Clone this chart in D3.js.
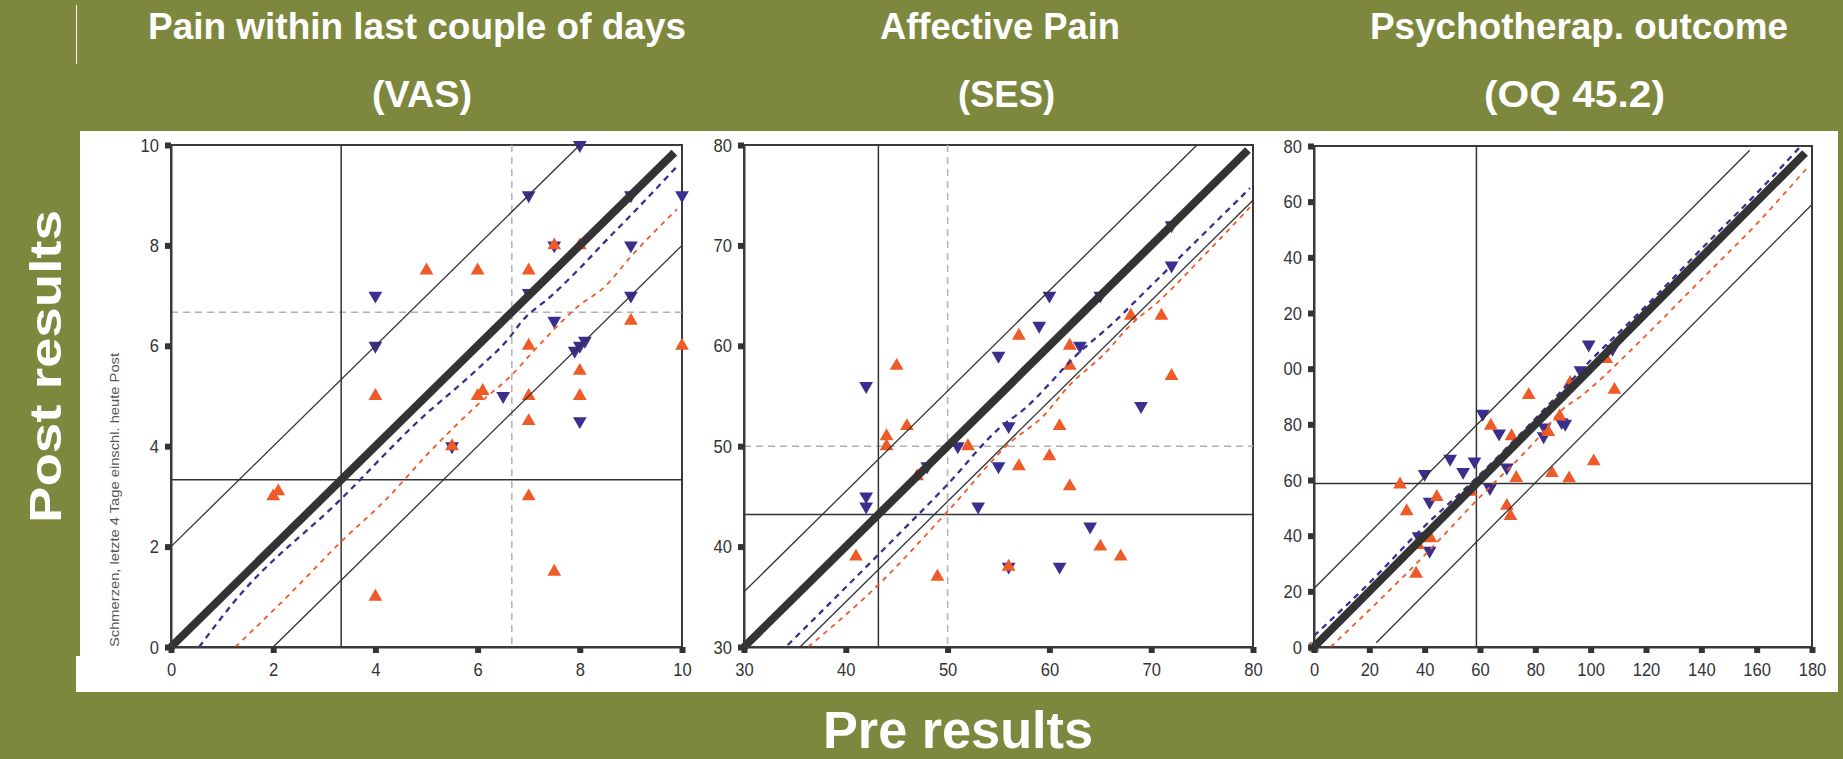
<!DOCTYPE html>
<html>
<head>
<meta charset="utf-8">
<script src="https://cdn.jsdelivr.net/npm/d3@7"></script>
<style>
  html, body { margin: 0; padding: 0; background: #7e873e; overflow: hidden; }
  text { font-family: "Liberation Sans", Arial, sans-serif; }
</style>
</head>
<body>
<svg id="chart" width="1843" height="759"></svg>
<script>
// ---- data: panel 1, pain VAS ----
const vasXTicks = [0, 2, 4, 6, 8, 10];
const vasYTicks = [0, 2, 4, 6, 8, 10];
const vasDown = [[8, 10], [7, 9], [9, 9], [10, 9], [4, 7], [7, 7.05], [9, 8], [7.5, 8], [7.5, 6.5],
  [4, 6], [7.9, 5.9], [8, 6], [8.1, 6.1], [9, 7], [6.5, 5], [8, 4.5], [5.5, 4]];
const vasUp = [[5, 7.5], [6, 7.5], [7, 7.5], [7.5, 8], [8, 8], [4, 5], [6, 5], [6.1, 5.1], [7, 6],
  [7, 5], [7, 4.5], [8, 5.5], [8, 5], [9, 6.5], [10, 6], [5.5, 4], [2, 3], [2.1, 3.1], [7, 3],
  [7.5, 1.5], [4, 1]];
const vasBlueFit = [[0.55, 0], [1.26, 0.93], [3.33, 2.95], [4.86, 4.52], [5.98, 5.52], [6.62, 6.16],
  [6.86, 6.48], [7.46, 7.01], [8.1, 7.65], [8.46, 8.04], [8.98, 8.58], [9.9, 9.57]];
const vasOrangeFit = [[1.26, 0], [2.3, 1.03], [3.33, 2.1], [4.22, 2.95], [5.02, 3.84], [6.06, 4.88],
  [6.62, 5.37], [7.1, 5.9], [7.5, 6.33], [7.98, 6.8], [8.46, 7.15], [9.02, 7.8], [9.9, 8.72]];
const vasDiagonal = [[0, 0], [9.85, 9.85]];
const vasBands = [[[0, 2], [8, 10]], [[2, 0], [10, 8]]];
const vasCut = 3.33;
const vasNorm = 6.67;

// ---- data: panel 2, affective pain SES ----
const sesXTicks = [30, 40, 50, 60, 70, 80];
const sesYTicks = [30, 40, 50, 60, 70, 80];
const sesDown = [[42, 56], [42, 45], [42, 44], [48, 48], [51, 50], [53, 44], [55, 59], [55, 48],
  [56, 52], [56, 38], [59, 62], [60, 65], [61, 38], [63, 60], [64, 42], [65, 65], [69, 54],
  [72, 72], [72, 68]];
const sesUp = [[41, 39], [44, 51], [44, 50], [45, 58], [46, 52], [47, 47], [49, 37], [52, 50],
  [56, 38], [57, 61], [57, 48], [60, 49], [61, 52], [62, 60], [62, 58], [62, 46], [65, 40],
  [67, 39], [68, 63], [71, 63], [72, 57]];
const sesBlueFit = [[34.3, 30.2], [43.2, 39.2], [50, 46.2], [55.2, 51.9], [57.4, 53.6], [63, 59.4],
  [66.4, 62.4], [68.4, 64.4], [72, 68], [79.7, 75.7]];
const sesOrangeFit = [[36.3, 30], [43.2, 36.2], [50, 43.5], [56.3, 50.5], [59.3, 52.9], [62, 56.1],
  [65.3, 59.1], [68.2, 62.3], [70.6, 64.3], [75, 68.8], [79.7, 73.8]];
const sesDiagonal = [[30, 30], [79.5, 79.5]];
const sesBands = [[[30, 35.5], [74.5, 80]], [[35.5, 30], [80, 74.5]]];
const sesCut = 43.2;
const sesNorm = 50;

// ---- data: panel 3, psychotherapy outcome OQ 45.2 ----
const oqXTicks = [0, 20, 40, 60, 80, 100, 120, 140, 160, 180];
const oqYTicks = [0, 20, 40, 60, 80, 100, 120, 140, 160, 180];
const oqYTickLabels = ["0", "20", "40", "60", "80", "00", "20", "40", "60", "80"]; // clipped in the source
const oqDown = [[61, 83.8], [40, 62.2], [49.2, 67.6], [53.9, 62.9], [58, 66.7], [66.9, 76.7],
  [69.7, 64.5], [63.6, 57.1], [41.8, 52.2], [41.8, 34.6], [37.8, 39.8], [83.3, 78.9], [83, 75.7],
  [89.5, 80.8], [90.8, 80.2], [96.3, 99.4], [99.3, 108.7], [107.9, 107.1]];
const oqUp = [[31.1, 58.4], [33.5, 48.8], [36.9, 26.3], [37.6, 36.6], [42.1, 39.1], [44.4, 53.9],
  [56.7, 55.8], [63.9, 79.5], [71.4, 75.7], [73.1, 60.7], [69.7, 50.7], [71, 47.1], [77.6, 90.5],
  [84.7, 77.2], [86, 62.5], [88.8, 82.8], [92.2, 60.6], [92.6, 94.9], [101.1, 66.7],
  [105.6, 103.5], [108.6, 92.4]];
const oqBlueFit = [[0, 4], [20, 23], [38, 41.5], [59, 61], [80, 82], [100, 103], [120, 122.5],
  [140, 143], [160, 163], [176, 180]];
const oqOrangeFit = [[6, 0], [40, 33], [58.7, 52.6], [80, 74], [90, 85.5], [97, 90.5], [100, 93],
  [120, 112], [140, 132], [160, 152], [179, 173]];
const oqDiagonal = [[0, 0], [177.5, 177.5]];
const oqBands = [[[0, 21], [157.5, 178.5]], [[22.5, 1.5], [180, 159]]];
const oqCut = 58.7;
const oqOrigin = [[0, 0]];

const titles = [
  ["Pain within last couple of days", "(VAS)"],
  ["Affective Pain", "(SES)"],
  ["Psychotherap. outcome", "(OQ 45.2)"]
];

// ---- drawing ----
const svg = d3.select('#chart');
const olive = '#7e873e', ink = '#333333', orange = '#ef5a29', blue = '#3a2f8e', grid = '#b8aeae';

svg.append('rect').attr('width', 1843).attr('height', 759).attr('fill', olive);
svg.append('rect').attr('x', 80).attr('y', 131).attr('width', 1758).attr('height', 561).attr('fill', '#fff');
svg.append('rect').attr('x', 76).attr('y', 656).attr('width', 6).attr('height', 36).attr('fill', '#fff');
svg.append('line').attr('x1', 76.5).attr('x2', 76.5).attr('y1', 5).attr('y2', 64)
  .attr('stroke', '#fff').attr('stroke-width', 1);

// title blocks: [left, width] for each line
const titleBoxes = [
  [[148, 538], [372, 100]],
  [[880, 240], [958, 97]],
  [[1370, 418], [1484, 181]]
];
titles.forEach((t, i) => {
  t.forEach((line, j) => {
    svg.append('text')
      .attr('x', titleBoxes[i][j][0])
      .attr('y', j === 0 ? 39 : 107)
      .attr('fill', '#fff').attr('font-size', 36).attr('font-weight', 'bold')
      .attr('textLength', titleBoxes[i][j][1]).attr('lengthAdjust', 'spacingAndGlyphs')
      .text(line);
  });
});

svg.append('text')
  .attr('transform', 'translate(61,523) rotate(-90)')
  .attr('fill', '#fff').attr('font-size', 45).attr('font-weight', 'bold')
  .attr('textLength', 313).attr('lengthAdjust', 'spacingAndGlyphs')
  .text('Post results');

svg.append('text')
  .attr('x', 823).attr('y', 748)
  .attr('fill', '#fff').attr('font-size', 51).attr('font-weight', 'bold')
  .attr('textLength', 270).attr('lengthAdjust', 'spacingAndGlyphs')
  .text('Pre results');

svg.append('text')
  .attr('transform', 'translate(118.5,647) rotate(-90)')
  .attr('fill', '#555').attr('font-size', 12.5)
  .attr('textLength', 294).attr('lengthAdjust', 'spacingAndGlyphs')
  .text('Schmerzen, letzte 4 Tage einschl. heute Post');

function drawPanel(p) {
  const x = d3.scaleLinear().domain(p.xDomain).range([p.left, p.right]);
  const y = d3.scaleLinear().domain(p.yDomain).range([p.bottom, p.top]);
  const g = svg.append('g');
  const line = d3.line().x(d => x(d[0])).y(d => y(d[1]));

  // frame
  g.append('rect')
    .attr('x', p.left).attr('y', p.top)
    .attr('width', p.right - p.left).attr('height', p.bottom - p.top)
    .attr('fill', 'none').attr('stroke', '#3a3a3a').attr('stroke-width', 2);

  // normal range (dashed) and cut-off (solid) cross hairs
  if (p.norm !== undefined) {
    g.append('line').attr('x1', x(p.norm)).attr('x2', x(p.norm)).attr('y1', p.top).attr('y2', p.bottom)
      .attr('stroke', grid).attr('stroke-width', 1.5).attr('stroke-dasharray', '7,5');
    g.append('line').attr('x1', p.left).attr('x2', p.right).attr('y1', y(p.norm)).attr('y2', y(p.norm))
      .attr('stroke', grid).attr('stroke-width', 1.5).attr('stroke-dasharray', '7,5');
  }
  g.append('line').attr('x1', x(p.cut)).attr('x2', x(p.cut)).attr('y1', p.top).attr('y2', p.bottom)
    .attr('stroke', ink).attr('stroke-width', 1.5);
  g.append('line').attr('x1', p.left).attr('x2', p.right).attr('y1', y(p.cut)).attr('y2', y(p.cut))
    .attr('stroke', ink).attr('stroke-width', 1.5);

  // markers: blue (down) first, orange (up) on top
  const tri = d3.symbol().type(d3.symbolTriangle).size(82);
  g.selectAll('.down').data(p.down).join('path')
    .attr('d', tri)
    .attr('transform', d => `translate(${x(d[0])},${y(d[1])}) rotate(180)`)
    .attr('fill', blue);
  g.selectAll('.up').data(p.up).join('path')
    .attr('d', tri)
    .attr('transform', d => `translate(${x(d[0])},${y(d[1])})`)
    .attr('fill', orange);

  if (p.origin) {
    g.selectAll('.origin').data(p.origin).join('rect')
      .attr('x', d => x(d[0]) - 4).attr('y', d => y(d[1]) - 4)
      .attr('width', 8).attr('height', 8)
      .attr('fill', 'none').attr('stroke', '#c0392b').attr('stroke-width', 1.2);
  }

  // reliable change bands
  p.bands.forEach(b => {
    g.append('path').attr('d', line(b)).attr('fill', 'none')
      .attr('stroke', ink).attr('stroke-width', 1.3);
  });

  // smoothed fits
  g.append('path').attr('d', line.curve(d3.curveMonotoneX)(p.orangeFit)).attr('fill', 'none')
    .attr('stroke', orange).attr('stroke-width', 1.8).attr('stroke-dasharray', '5,5');
  g.append('path').attr('d', line.curve(d3.curveMonotoneX)(p.blueFit)).attr('fill', 'none')
    .attr('stroke', blue).attr('stroke-width', 2.3).attr('stroke-dasharray', '6,5');
  line.curve(d3.curveLinear);

  // identity line
  g.append('path').attr('d', line(p.diagonal)).attr('fill', 'none')
    .attr('stroke', ink).attr('stroke-width', 8);

  // axes with square tick marks
  const xAxis = d3.axisBottom(x).tickValues(p.xTicks).tickSize(6).tickSizeOuter(0).tickPadding(10);
  const yAxis = d3.axisLeft(y).tickValues(p.yTicks).tickSize(6).tickSizeOuter(0).tickPadding(6);
  if (p.yLabels) yAxis.tickFormat((d, i) => p.yLabels[i]);

  const gx = g.append('g').attr('transform', `translate(0,${p.bottom})`).call(xAxis);
  const gy = g.append('g').attr('transform', `translate(${p.left},0)`).call(yAxis);
  [gx, gy].forEach(a => {
    a.select('.domain').attr('stroke', '#3a3a3a').attr('stroke-width', 2);
    a.selectAll('.tick line').attr('stroke', ink).attr('stroke-width', 6);
    a.selectAll('.tick text')
      .attr('fill', ink).attr('font-size', 19)
      .attr('font-family', '"Liberation Sans", Arial, sans-serif')
      .each(function () {
        const n = this.textContent.length;
        d3.select(this).attr('textLength', n * 9.2).attr('lengthAdjust', 'spacingAndGlyphs');
      });
  });
}

drawPanel({
  left: 171, right: 682, top: 145, bottom: 647,
  xDomain: [0, 10], yDomain: [0, 10], xTicks: vasXTicks, yTicks: vasYTicks,
  down: vasDown, up: vasUp, blueFit: vasBlueFit, orangeFit: vasOrangeFit,
  diagonal: vasDiagonal, bands: vasBands, cut: vasCut, norm: vasNorm
});
drawPanel({
  left: 744, right: 1253, top: 145, bottom: 647,
  xDomain: [30, 80], yDomain: [30, 80], xTicks: sesXTicks, yTicks: sesYTicks,
  down: sesDown, up: sesUp, blueFit: sesBlueFit, orangeFit: sesOrangeFit,
  diagonal: sesDiagonal, bands: sesBands, cut: sesCut, norm: sesNorm
});
drawPanel({
  left: 1314, right: 1812, top: 146, bottom: 647,
  xDomain: [0, 180], yDomain: [0, 180], xTicks: oqXTicks, yTicks: oqYTicks, yLabels: oqYTickLabels,
  down: oqDown, up: oqUp, blueFit: oqBlueFit, orangeFit: oqOrangeFit,
  diagonal: oqDiagonal, bands: oqBands, cut: oqCut, origin: oqOrigin
});
</script>
</body>
</html>
